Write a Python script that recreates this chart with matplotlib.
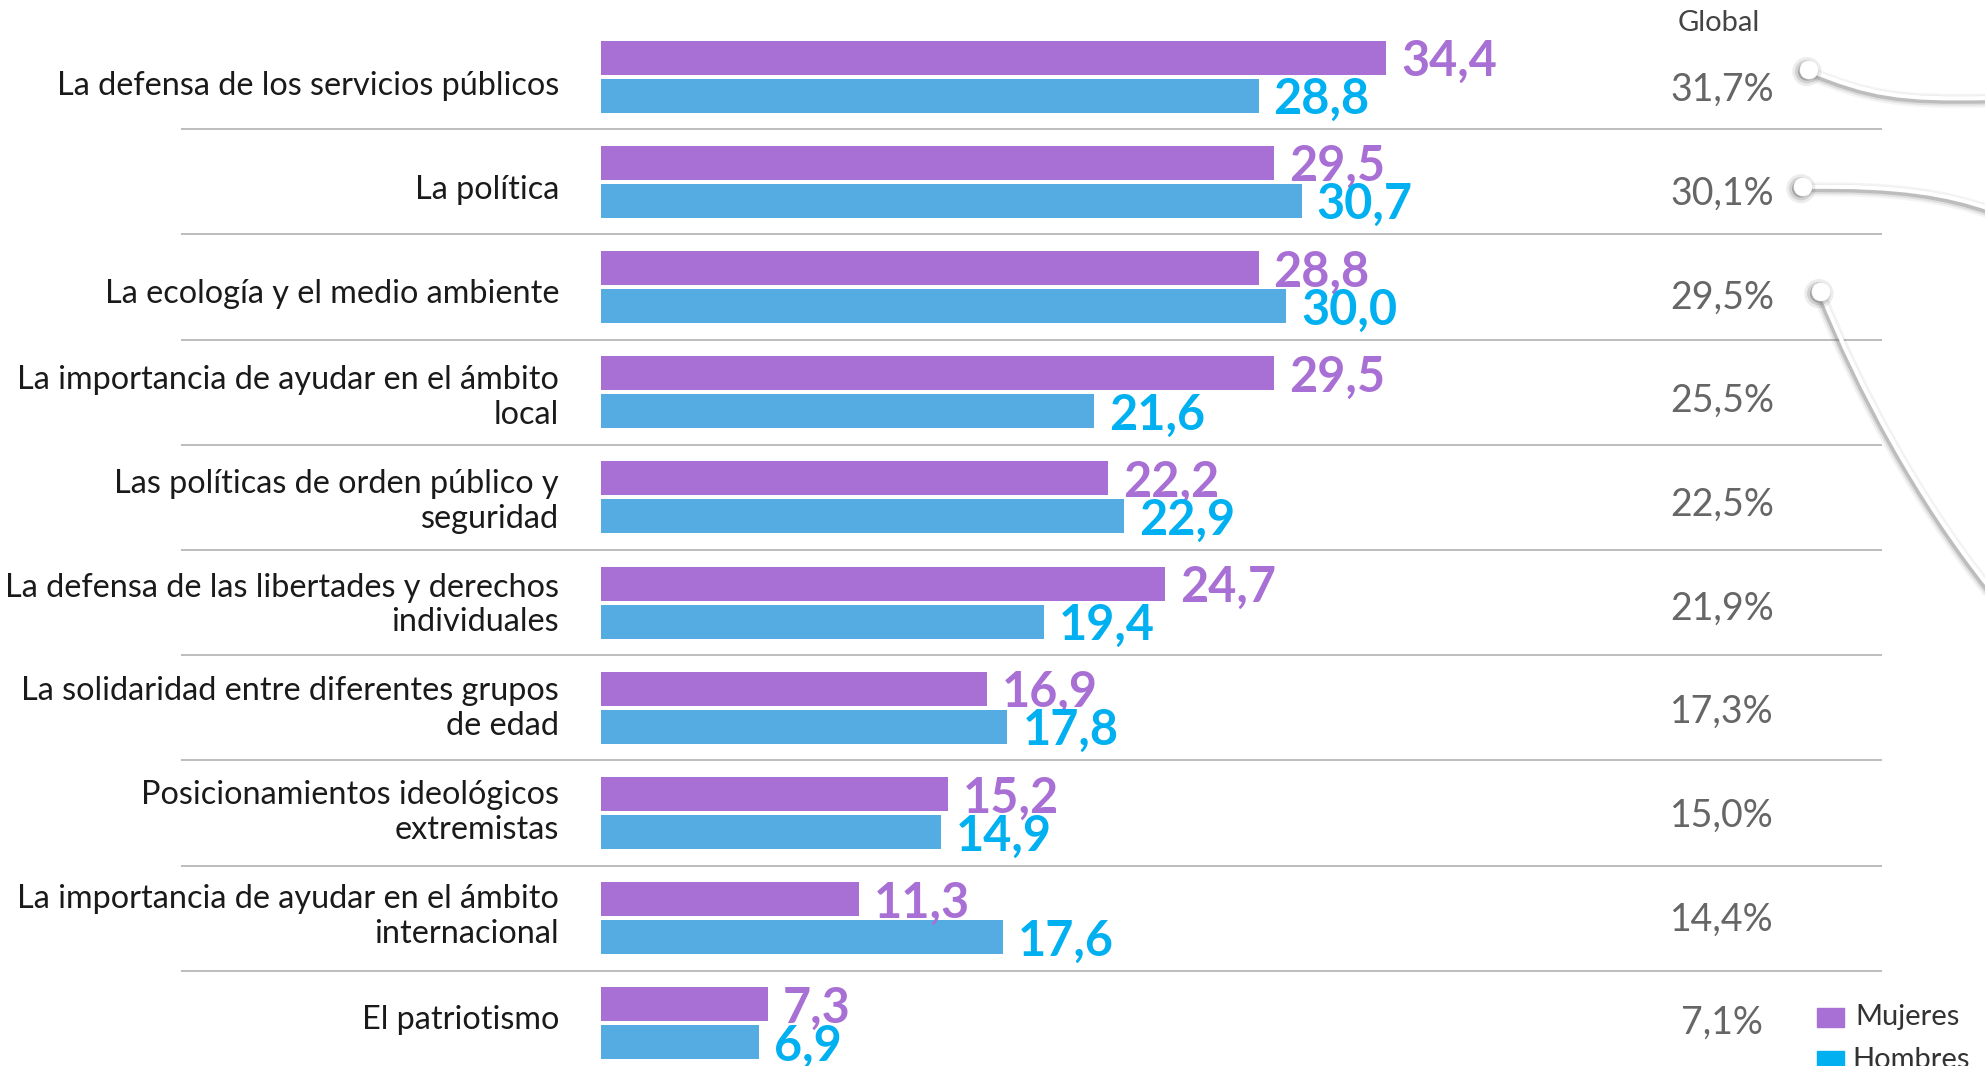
import numpy as np
import matplotlib
matplotlib.use("Agg")
import matplotlib.pyplot as plt
from matplotlib.patches import Rectangle, PathPatch, Circle
from matplotlib.path import Path
import matplotlib.patheffects as pe

plt.rcParams['font.family'] = ['Lato', 'DejaVu Sans']

categories = [
    "La defensa de los servicios públicos",
    "La política",
    "La ecología y el medio ambiente",
    "La importancia de ayudar en el ámbito\nlocal",
    "Las políticas de orden público y\nseguridad",
    "La defensa de las libertades y derechos\nindividuales",
    "La solidaridad entre diferentes grupos\nde edad",
    "Posicionamientos ideológicos\nextremistas",
    "La importancia de ayudar en el ámbito\ninternacional",
    "El patriotismo",
]
mujeres = [34.4, 29.5, 28.8, 29.5, 22.2, 24.7, 16.9, 15.2, 11.3, 7.3]
hombres = [28.8, 30.7, 30.0, 21.6, 22.9, 19.4, 17.8, 14.9, 17.6, 6.9]
global_pct = [31.7, 30.1, 29.5, 25.5, 22.5, 21.9, 17.3, 15.0, 14.4, 7.1]
series_names = ["Mujeres", "Hombres"]
global_header = "Global"

W, H = 1985, 1066
PURPLE = "#A86FD4"
BLUE_BAR = "#55ACE3"
BLUE_TXT = "#00B0F0"

fig = plt.figure(figsize=(W / 100, H / 100), dpi=100)
ax = fig.add_axes([0, 0, 1, 1])
ax.set_axis_off()

ppu = 22.83      # pixels per unit on x
x0px = 601       # pixel position of x=0
pitch = 105.2    # pixels per row
c0 = 76.5        # pixel centre of first row
ax.set_xlim(-x0px / ppu, (W - x0px) / ppu)
ax.set_ylim((H - c0) / pitch, -c0 / pitch)

n = len(categories)
y = np.arange(n)
bh = 34 / pitch
off = 19 / pitch

ax.barh(y - off, mujeres, height=bh, color=PURPLE)
ax.barh(y + off, hombres, height=bh, color=BLUE_BAR)

def fmt(v):
    return f"{v:.1f}".replace(".", ",")

cap_val = 18.5 / pitch
for i, (m, h) in enumerate(zip(mujeres, hombres)):
    ax.text(m + 15 / ppu, i - off + cap_val, fmt(m), color=PURPLE,
            fontsize=35, fontweight="bold", ha="left", va="baseline")
    ax.text(h + 15 / ppu, i + off + cap_val, fmt(h), color=BLUE_TXT,
            fontsize=35, fontweight="bold", ha="left", va="baseline")

# category labels (text rows sit on a slightly tighter pitch than bars)
lab_pitch = 103.8
for i, lab in enumerate(categories):
    ly = (86 + lab_pitch * i - c0) / pitch
    ax.text(-42 / ppu, ly, lab, ha="right", va="center",
            multialignment="right", fontsize=23.3, color="#1a1a1a",
            linespacing=1.2)

# separators
ax.hlines(np.arange(n - 1) + 0.5,
          (181 - x0px) / ppu, (1882 - x0px) / ppu,
          color="#BDBDBD", lw=1.4)

# global column
gx = (1722 - x0px) / ppu
for i, g in enumerate(global_pct):
    gy = (87.4 + 103.7 * i + 13.5 - c0) / pitch
    ax.text(gx, gy, fmt(g) + "%", ha="center", va="baseline",
            fontsize=27, color="#666666")
ax.text((1719 - x0px) / ppu, (23 - c0) / pitch, global_header, ha="center",
        va="center", fontsize=21, color="#444444")

# overlay in pixel coords for decoration + legend
ov = fig.add_axes([0, 0, 1, 1])
ov.set_axis_off()
ov.set_xlim(0, W)
ov.set_ylim(H, 0)
ov.patch.set_alpha(0)

curves = [
    [(1809, 70), (1870, 95), (1900, 100), (1990, 98)],
    [(1803, 187), (1900, 185), (1950, 195), (1990, 209)],
    [(1821, 292), (1860, 390), (1920, 500), (1990, 588)],
]
line_fx = [
    pe.SimpleLineShadow(offset=(-1.2, -1.8), shadow_color="#666666", alpha=0.08, linewidth=10),
    pe.SimpleLineShadow(offset=(-1.2, -1.8), shadow_color="#666666", alpha=0.14, linewidth=7),
    pe.SimpleLineShadow(offset=(-1.0, -1.5), shadow_color="#666666", alpha=0.28, linewidth=4.8),
    pe.Normal(),
]
dot_fx = [
    pe.SimpleLineShadow(offset=(-1.5, -1.2), shadow_color="#666666", alpha=0.12, linewidth=8),
    pe.SimpleLineShadow(offset=(-1.5, -1.2), shadow_color="#666666", alpha=0.20, linewidth=4),
    pe.SimplePatchShadow(offset=(-1.5, -1.2), shadow_rgbFace="#666666", alpha=0.4),
    pe.Normal(),
]
for c in curves:
    path = Path(c, [Path.MOVETO, Path.CURVE4, Path.CURVE4, Path.CURVE4])
    ov.add_patch(PathPatch(path, facecolor="none", edgecolor="white", lw=3,
                           path_effects=line_fx, clip_on=False,
                           capstyle="round"))
for c in curves:
    ov.add_patch(Circle(c[0], 9, facecolor="white", edgecolor="white",
                        lw=0.5, path_effects=dot_fx, zorder=3))

# legend
leg_colors = [PURPLE, BLUE_TXT]
leg_y = [1008, 1051]
leg_x = [1855, 1852]
for name, col, ly, lx in zip(series_names, leg_colors, leg_y, leg_x):
    ov.add_patch(Rectangle((1817, ly), 27, 19, color=col, clip_on=False))
    ov.text(lx, ly + 9.5, name, ha="left", va="center", fontsize=21,
            color="#333333")

fig.savefig("out.png", dpi=100)
